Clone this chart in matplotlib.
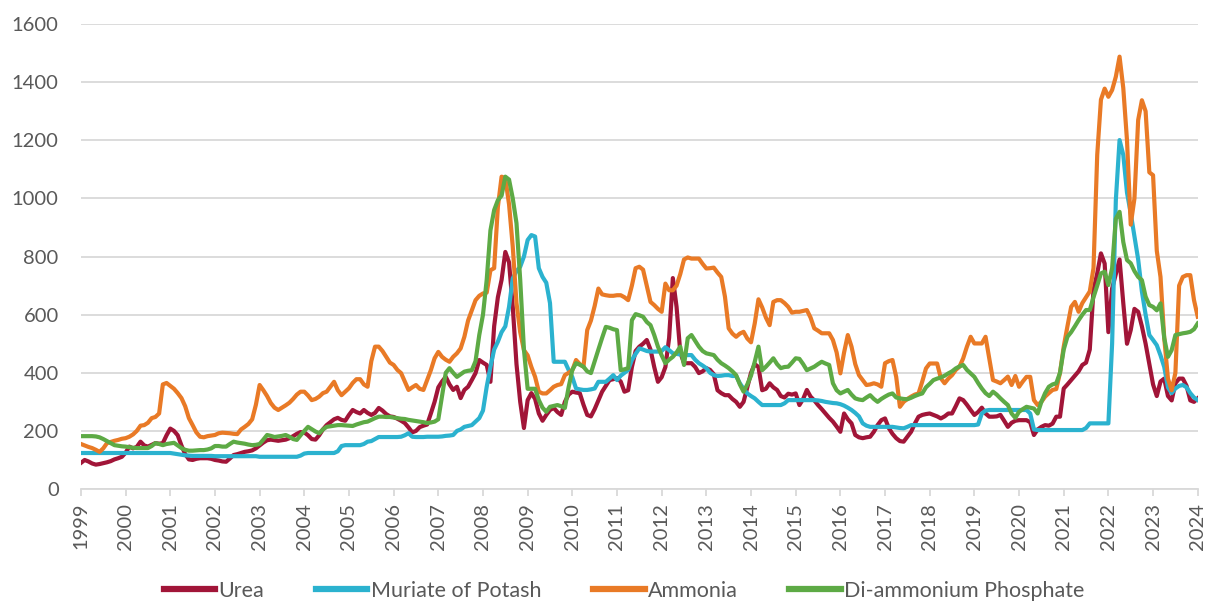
import matplotlib
matplotlib.use("Agg")
import matplotlib.pyplot as plt
import numpy as np

# Monthly prices, Jan 1999 .. Jan 2024 (301 values each)
urea = [
    90, 100, 95, 88, 84, 86, 89, 92, 96, 102, 106, 111,            # 1999
    125, 146, 140, 145, 163, 150, 146, 152, 158, 156, 158, 185,    # 2000
    208, 200, 185, 150, 120, 102, 100, 104, 106, 106, 106, 104,    # 2001
    100, 98, 95, 94, 105, 117, 120, 124, 128, 130, 133, 140,       # 2002
    150, 160, 168, 170, 168, 166, 168, 170, 175, 182, 190, 196,    # 2003
    195, 185, 172, 170, 185, 205, 220, 230, 240, 245, 238, 235,    # 2004
    255, 272, 265, 260, 272, 262, 255, 262, 279, 270, 258, 250,    # 2005
    248, 242, 235, 227, 212, 195, 200, 213, 218, 222, 260, 300,    # 2006
    350, 370, 386, 360, 341, 352, 313, 341, 352, 375, 399, 444,    # 2007
    435, 427, 369, 560, 660, 720, 816, 780, 627, 430, 300, 210,    # 2008
    306, 330, 310, 260, 235, 255, 272, 279, 265, 255, 300, 325,    # 2009
    335, 332, 330, 290, 255, 250, 275, 305, 335, 355, 375, 378,    # 2010
    382, 370, 335, 340, 420, 475, 490, 500, 513, 480, 420, 369,    # 2011
    385, 420, 520, 726, 627, 470, 433, 433, 433, 420, 399, 405,    # 2012
    416, 410, 395, 340, 330, 323, 323, 310, 300, 283, 300, 350,    # 2013
    400, 430, 420, 340, 345, 364, 350, 341, 320, 315, 328, 325,    # 2014
    329, 289, 310, 341, 318, 305, 289, 275, 260, 245, 232, 215,    # 2015
    197, 260, 240, 226, 186, 178, 175, 178, 180, 197, 220, 237,    # 2016
    243, 210, 190, 175, 165, 163, 180, 197, 225, 249, 255, 258,    # 2017
    260, 255, 250, 243, 250, 260, 260, 285, 312, 306, 290, 272,    # 2018
    255, 265, 280, 260, 249, 249, 250, 255, 235, 214, 228, 235,    # 2019
    237, 237, 237, 230, 186, 205, 214, 220, 218, 225, 249, 249,    # 2020
    346, 360, 375, 390, 405, 427, 435, 480, 685, 742, 811, 776,    # 2021
    540, 690, 740, 790, 640, 500, 547, 620, 610, 560, 500, 430,    # 2022
    360, 320, 370, 380, 320, 305, 364, 380, 380, 355, 305, 300,    # 2023
    312,                                                            # 2024
]

potash = [
    124, 124, 124, 124, 124, 124, 124, 124, 124, 124, 124, 124,    # 1999
    124, 124, 124, 124, 124, 124, 124, 124, 124, 124, 124, 124,    # 2000
    124, 122, 120, 118, 116, 115, 114, 114, 114, 114, 114, 114,    # 2001
    113, 113, 113, 113, 113, 113, 113, 113, 113, 113, 113, 113,    # 2002
    111, 111, 111, 111, 111, 111, 111, 111, 111, 111, 111, 115,    # 2003
    122, 124, 124, 124, 124, 124, 124, 124, 124, 130, 148, 151,    # 2004
    151, 151, 151, 151, 155, 163, 165, 172, 179, 179, 179, 179,    # 2005
    179, 179, 180, 185, 192, 180, 179, 179, 179, 180, 180, 180,    # 2006
    180, 181, 183, 184, 186, 200, 205, 214, 217, 220, 232, 244,    # 2007
    270, 352, 420, 480, 507, 540, 560, 627, 725, 750, 765, 800,    # 2008
    857, 874, 869, 760, 730, 710, 640, 438, 438, 438, 438, 410,    # 2009
    385, 346, 343, 341, 341, 343, 346, 369, 369, 369, 380, 392,    # 2010
    375, 390, 400, 410, 444, 465, 484, 480, 475, 473, 473, 473,    # 2011
    475, 488, 478, 467, 465, 463, 461, 461, 461, 445, 433, 425,    # 2012
    416, 400, 392, 389, 390, 392, 392, 389, 389, 364, 345, 329,    # 2013
    320, 312, 300, 289, 289, 289, 289, 289, 289, 295, 306, 306,    # 2014
    306, 306, 306, 306, 306, 306, 305, 303, 300, 298, 296, 295,    # 2015
    292, 287, 280, 272, 262, 250, 226, 218, 214, 214, 214, 214,    # 2016
    214, 214, 214, 212, 210, 209, 214, 220, 220, 220, 220, 220,    # 2017
    220, 220, 220, 220, 220, 220, 220, 220, 220, 220, 220, 220,    # 2018
    220, 222, 260, 270, 272, 272, 272, 272, 272, 272, 272, 272,    # 2019
    272, 272, 272, 260, 205, 203, 203, 203, 203, 203, 203, 203,    # 2020
    203, 203, 203, 203, 203, 203, 210, 226, 226, 226, 226, 226,    # 2021
    226, 500, 994, 1201, 1150, 1020, 949, 870, 790, 680, 600, 530, # 2022
    513, 495, 460, 420, 350, 330, 346, 355, 358, 350, 330, 315,    # 2023
    306,                                                            # 2024
]

ammonia = [
    155, 150, 145, 141, 135, 128, 140, 158, 162, 166, 169, 173,    # 1999
    175, 180, 188, 200, 218, 220, 228, 244, 248, 260, 360, 365,    # 2000
    355, 345, 330, 313, 285, 244, 220, 195, 180, 178, 182, 184,    # 2001
    186, 192, 194, 193, 192, 190, 189, 205, 214, 224, 240, 290,    # 2002
    358, 340, 320, 296, 280, 272, 280, 288, 297, 310, 325, 335,    # 2003
    335, 322, 306, 310, 318, 330, 335, 352, 369, 340, 323, 335,    # 2004
    347, 365, 378, 378, 360, 352, 440, 490, 490, 475, 455, 435,    # 2005
    427, 410, 399, 370, 341, 350, 358, 345, 341, 375, 409, 450,    # 2006
    472, 455, 445, 438, 455, 467, 484, 524, 580, 615, 650, 665,    # 2007
    673, 676, 753, 760, 971, 1075, 1070, 980, 834, 640, 540, 478,  # 2008
    460, 420, 386, 335, 329, 329, 340, 352, 358, 361, 392, 400,    # 2009
    409, 444, 430, 421, 547, 580, 630, 690, 670, 667, 665, 665,    # 2010
    667, 667, 660, 650, 700, 760, 765, 755, 700, 644, 633, 620,    # 2011
    610, 707, 684, 684, 700, 740, 790, 797, 793, 793, 793, 775,    # 2012
    759, 760, 762, 745, 730, 662, 553, 535, 524, 535, 541, 518,    # 2013
    505, 570, 653, 625, 590, 564, 644, 650, 650, 640, 627, 607,    # 2014
    610, 610, 613, 616, 590, 553, 545, 536, 536, 536, 513, 470,    # 2015
    398, 470, 530, 490, 430, 392, 375, 358, 360, 364, 360, 352,    # 2016
    433, 440, 444, 386, 283, 300, 310, 318, 325, 329, 370, 415,    # 2017
    432, 432, 432, 381, 364, 380, 392, 410, 421, 450, 490, 524,    # 2018
    501, 501, 501, 524, 450, 375, 370, 364, 375, 387, 358, 389,    # 2019
    352, 370, 386, 386, 306, 289, 300, 318, 330, 341, 344, 400,    # 2020
    490, 560, 627, 644, 610, 640, 660, 680, 760, 1150, 1340, 1378, # 2021
    1350, 1373, 1419, 1488, 1380, 1200, 910, 1000, 1270, 1338, 1300, 1090,  # 2022
    1080, 820, 730, 520, 380, 340, 400, 700, 730, 736, 736, 650,   # 2023
    593,                                                            # 2024
]

dap = [
    182, 182, 182, 182, 181, 178, 172, 165, 158, 151, 149, 147,    # 1999
    146, 144, 142, 141, 141, 141, 141, 148, 158, 155, 151, 155,    # 2000
    157, 159, 150, 141, 135, 132, 132, 133, 134, 134, 136, 140,    # 2001
    148, 148, 146, 146, 155, 163, 160, 158, 156, 153, 151, 152,    # 2002
    155, 170, 186, 183, 179, 181, 183, 186, 180, 172, 169, 185,    # 2003
    200, 214, 206, 198, 192, 205, 214, 216, 218, 220, 220, 219,    # 2004
    218, 217, 222, 226, 230, 232, 238, 244, 249, 249, 248, 248,    # 2005
    246, 244, 242, 241, 238, 236, 234, 232, 230, 227, 229, 232,    # 2006
    240, 320, 400, 416, 400, 386, 395, 404, 407, 409, 440, 530,    # 2007
    600, 720, 890, 960, 994, 1010, 1075, 1065, 1000, 915, 720, 480, # 2008
    345, 345, 345, 306, 280, 266, 283, 286, 289, 285, 279, 350,    # 2009
    410, 433, 428, 421, 405, 399, 440, 480, 520, 558, 555, 550,    # 2010
    547, 409, 412, 416, 581, 602, 598, 593, 575, 564, 530, 490,    # 2011
    460, 433, 445, 455, 470, 490, 427, 519, 530, 510, 490, 475,    # 2012
    467, 464, 461, 445, 433, 425, 416, 405, 392, 360, 335, 360,    # 2013
    390, 438, 490, 409, 421, 435, 450, 430, 416, 420, 421, 435,    # 2014
    450, 448, 430, 409, 415, 421, 430, 438, 432, 427, 364, 340,    # 2015
    329, 335, 341, 325, 312, 308, 306, 315, 323, 310, 300, 310,    # 2016
    318, 325, 329, 315, 312, 310, 309, 314, 320, 325, 329, 350,    # 2017
    362, 375, 380, 384, 390, 398, 405, 415, 422, 427, 410, 398,    # 2018
    386, 365, 346, 330, 320, 335, 325, 312, 300, 289, 260, 245,    # 2019
    266, 275, 283, 280, 277, 260, 300, 330, 352, 360, 364, 400,    # 2020
    480, 524, 540, 560, 581, 600, 616, 616, 660, 700, 742, 748,    # 2021
    702, 760, 930, 954, 850, 788, 777, 750, 730, 719, 662, 633,    # 2022
    627, 615, 639, 520, 455, 478, 530, 533, 536, 538, 541, 550,    # 2023
    570,                                                            # 2024
]

series_names = ["Urea", "Muriate of Potash", "Ammonia", "Di-ammonium Phosphate"]
series_colors = ["#A11538", "#2BB2CF", "#E97A26", "#5DAA45"]
year_ticks = list(range(1999, 2025))
y_ticks = list(range(0, 1601, 200))

months = np.arange(len(urea))
x = 1999 + months / 12.0

plt.rcParams['font.family'] = ['Lato', 'DejaVu Sans']

fig = plt.figure(figsize=(12.08, 6.03), dpi=100)
ax = fig.add_axes([0.067, 0.189, 0.9245, 0.771])

for vals, name, col in zip([urea, potash, ammonia, dap], series_names, series_colors):
    ax.plot(x, vals, color=col, lw=3.0, label=name, solid_joinstyle='round')

ax.set_xlim(1999, 2024)
ax.set_ylim(0, 1600)
ax.set_yticks(y_ticks)
ax.set_xticks(year_ticks)
ax.set_xticklabels([str(y) for y in year_ticks], rotation=90)
ax.grid(axis='y', color='#D9D9D9', lw=1.3)
ax.set_axisbelow(True)
for s in ['top', 'right', 'left']:
    ax.spines[s].set_visible(False)
ax.spines['bottom'].set_color('#D9D9D9')
ax.spines['bottom'].set_linewidth(1.3)
ax.tick_params(axis='y', length=0, labelsize=14.5, labelcolor='#595959', pad=16)
ax.tick_params(axis='x', length=5, width=1.3, color='#D9D9D9', labelsize=14.5,
               labelcolor='#595959', pad=5)

leg = fig.legend(loc='center', bbox_to_anchor=(0.5166, 0.02), ncol=4, frameon=False,
                 fontsize=15.5, handlelength=2.4, handletextpad=0.15, columnspacing=2.4)
for t in leg.get_texts():
    t.set_color('#595959')
for h in leg.get_lines():
    h.set_linewidth(4.5)

fig.savefig("out.png", dpi=100)
